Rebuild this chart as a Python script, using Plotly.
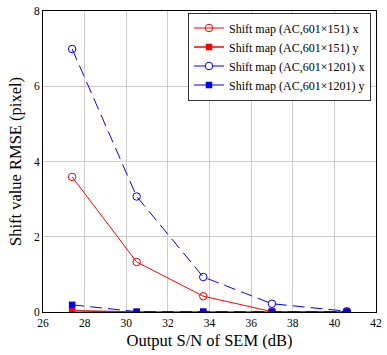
import plotly.graph_objects as go

snr = [27.4, 30.5, 33.7, 37.0, 40.6]
red_x = [3.59, 1.33, 0.42, 0.01, 0.0]
red_y = [0.03, 0.0, 0.0, 0.0, 0.0]
blue_x = [6.99, 3.07, 0.93, 0.22, 0.02]
blue_y = [0.19, 0.01, 0.01, 0.01, 0.01]
names = ["Shift map (AC,601×151) x", "Shift map (AC,601×151) y",
         "Shift map (AC,601×1201) x", "Shift map (AC,601×1201) y"]
x_ticks = [26, 28, 30, 32, 34, 36, 38, 40, 42]
y_ticks = [0, 2, 4, 6, 8]

fig = go.Figure()
fig.add_trace(go.Scatter(x=snr, y=red_x, name=names[0], mode="lines+markers",
                         line=dict(color="red", width=1),
                         marker=dict(symbol="circle-open", size=7.5, color="red", line=dict(width=1))))
fig.add_trace(go.Scatter(x=snr, y=red_y, name=names[1], mode="lines+markers",
                         line=dict(color="red", width=1.5),
                         marker=dict(symbol="square", size=6.5, color="red")))
fig.add_trace(go.Scatter(x=snr, y=blue_x, name=names[2], mode="lines+markers",
                         line=dict(color="blue", width=1, dash="12px,6px"),
                         marker=dict(symbol="circle-open", size=7.5, color="blue", line=dict(width=1))))
fig.add_trace(go.Scatter(x=snr, y=blue_y, name=names[3], mode="lines+markers",
                         line=dict(color="blue", width=1, dash="12px,6px"),
                         marker=dict(symbol="square", size=6.5, color="blue")))

font = "Liberation Serif"
fig.update_layout(
    width=387, height=355,
    margin=dict(l=43, r=5, t=9, b=43),
    plot_bgcolor="white", paper_bgcolor="white",
    font=dict(family=font, color="black", size=11),
    showlegend=True,
    legend=dict(x=0.985, y=0.995, xanchor="right", yanchor="top",
                bgcolor="white", bordercolor="#333", borderwidth=1,
                font=dict(family=font, size=12, color="black"),
                tracegroupgap=0, itemwidth=30),
    xaxis=dict(range=[26, 42], tickvals=x_ticks, showgrid=True, gridcolor="#cccccc",
               gridwidth=1, showline=True, linecolor="black", linewidth=1, mirror=True,
               ticks="", zeroline=False,
               title=dict(text="Output S/N of SEM (dB)", font=dict(size=16.5, family=font), standoff=6),
               tickfont=dict(size=11.5, family=font)),
    yaxis=dict(range=[0, 8], tickvals=y_ticks, showgrid=True, gridcolor="#cccccc",
               gridwidth=1, showline=True, linecolor="black", linewidth=1, mirror=True,
               ticks="", zeroline=False,
               title=dict(text="Shift value RMSE (pixel)", font=dict(size=16.5, family=font), standoff=8),
               tickfont=dict(size=11.5, family=font)),
)
fig.write_html("out.html", config={"displayModeBar": False},
               post_script="document.body.style.margin='0px';")
